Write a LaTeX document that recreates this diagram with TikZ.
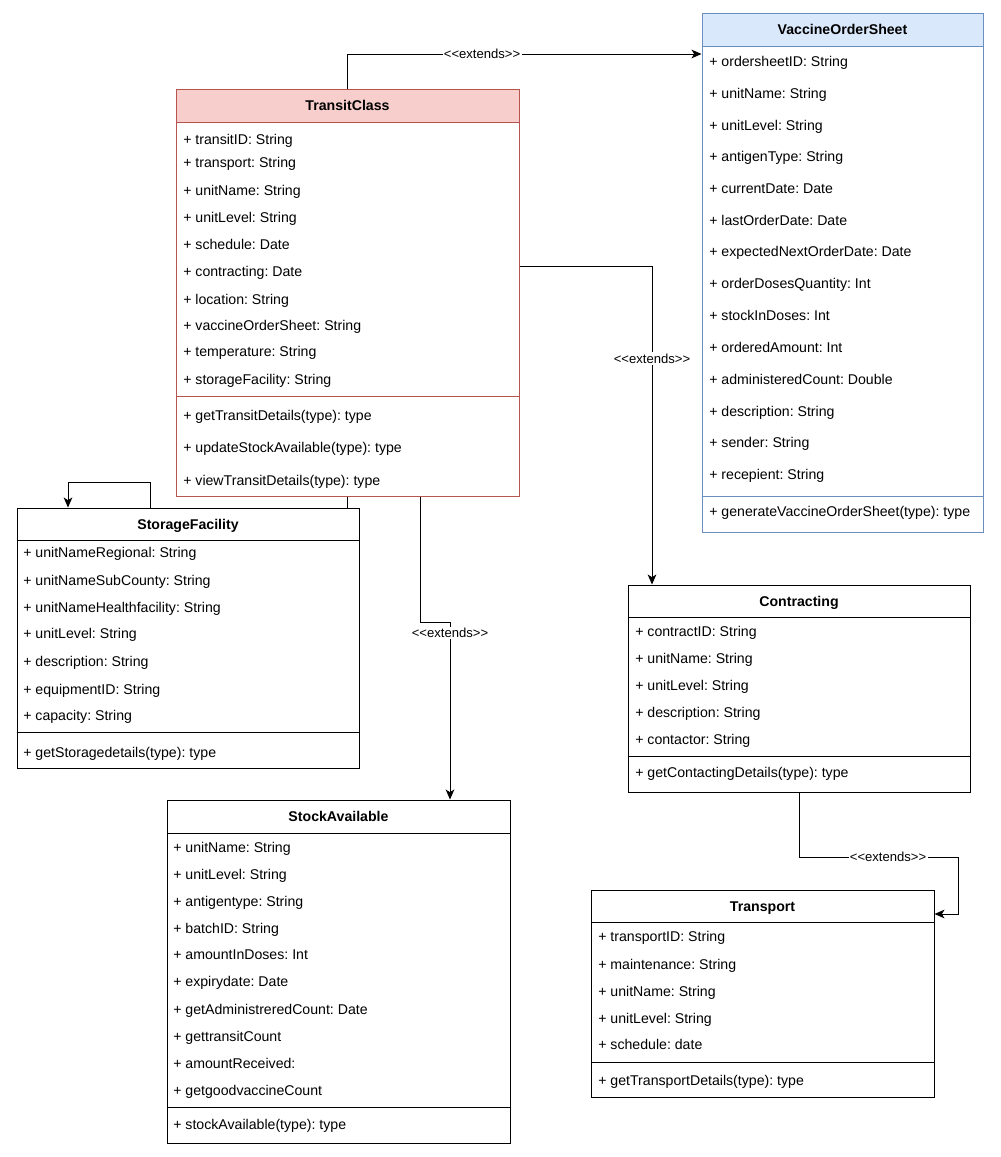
\documentclass[tikz,border=0pt]{standalone}
\usepackage{fontspec}
\setmainfont{Liberation Sans}
\usetikzlibrary{fit,arrows.meta}
\frenchspacing

\definecolor{redfill}{HTML}{F8CECC}
\definecolor{redline}{HTML}{B85450}
\definecolor{bluefill}{HTML}{DAE8FC}
\definecolor{blueline}{HTML}{6C8EBF}

\tikzset{
  box/.style={draw,fill=white,inner sep=0pt,line width=0.75pt},
  title/.style={inner sep=0pt,text height=7.5pt,text depth=0pt,
    font=\fontsize{10.6}{12.7}\selectfont\bfseries},
  attr/.style={anchor=west,inner sep=0pt,text height=7pt,text depth=0pt,
    font=\fontsize{10.6}{12.7}\selectfont},
  sep/.style={line width=0.75pt},
  ext/.style={line width=0.75pt,-{Stealth[length=7.5pt,width=6.5pt,inset=2pt]}},
  lbl/.style={fill=white,inner sep=1pt,font=\fontsize{9.8}{11.7}\selectfont},
}

\begin{document}
\begin{tikzpicture}[x=0.75pt,y=-0.75pt]
  \useasboundingbox (0,0) rectangle (1000,1157);

  % TransitClass
  \node[box,draw=redline,fit={(176,89) (519,496)}] (transit) {};
  \node[box,draw=redline,fill=redfill,fit={(176,89) (519,122)}] (transit head) {};
  \node[title] (transit title) at (transit head) {TransitClass};
  \draw[sep,redline] (transit.west |- 0,396) -- (transit.east |- 0,396);
  \foreach \y/\t [count=\i] in {140/transitID: String, 163/transport: String,
      191/unitName: String, 218/unitLevel: String, 245/schedule: Date,
      272/contracting: Date, 300/location: String, 326/vaccineOrderSheet: String,
      352/temperature: String, 380/storageFacility: String,
      416/getTransitDetails(type): type, 448/updateStockAvailable(type): type,
      481/viewTransitDetails(type): type}
    \node[attr] (transit \i) at (183,\y) {+ \t};

  % VaccineOrderSheet
  \node[box,draw=blueline,fit={(702,13) (983,532)}] (vos) {};
  \node[box,draw=blueline,fill=bluefill,fit={(702,13) (983,46)}] (vos head) {};
  \node[title] (vos title) at (vos head) {VaccineOrderSheet};
  \draw[sep,blueline] (vos.west |- 0,496) -- (vos.east |- 0,496);
  \foreach \y/\t [count=\i] in {62/ordersheetID: String, 94/unitName: String,
      126/unitLevel: String, 157/antigenType: String, 189/currentDate: Date,
      221/lastOrderDate: Date, 252/expectedNextOrderDate: Date,
      284/orderDosesQuantity: Int, 316/stockInDoses: Int, 348/orderedAmount: Int,
      380/administeredCount: Double, 412/description: String, 443/sender: String,
      475/recepient: String, 512/generateVaccineOrderSheet(type): type}
    \node[attr] (vos \i) at (709,\y) {+ \t};

  % StorageFacility
  \node[box,fit={(17,508) (359,768)}] (storage) {};
  \node[box,fit={(17,508) (359,540)}] (storage head) {};
  \node[title] (storage title) at (storage head) {StorageFacility};
  \draw[sep] (storage.west |- 0,732) -- (storage.east |- 0,732);
  \foreach \y/\t [count=\i] in {553/unitNameRegional: String,
      581/unitNameSubCounty: String, 608/unitNameHealthfacility: String,
      634/unitLevel: String, 662/description: String, 690/equipmentID: String,
      716/capacity: String, 753/getStoragedetails(type): type}
    \node[attr] (storage \i) at (23,\y) {+ \t};

  % StockAvailable
  \node[box,fit={(167,800) (510,1143)}] (stock) {};
  \node[box,fit={(167,800) (510,833)}] (stock head) {};
  \node[title] (stock title) at (stock head) {StockAvailable};
  \draw[sep] (stock.west |- 0,1107) -- (stock.east |- 0,1107);
  \foreach \y/\t [count=\i] in {848/unitName: String, 875/unitLevel: String,
      902/antigentype: String, 929/batchID: String, 955/amountInDoses: Int,
      982/expirydate: Date, 1010/getAdministreredCount: Date,
      1037/gettransitCount, 1064/amountReceived:, 1091/getgoodvaccineCount,
      1125/stockAvailable(type): type}
    \node[attr] (stock \i) at (173,\y) {+ \t};

  % Contracting
  \node[box,fit={(628,585) (970,792)}] (contracting) {};
  \node[box,fit={(628,585) (970,617)}] (contracting head) {};
  \node[title] (contracting title) at (contracting head) {Contracting};
  \draw[sep] (contracting.west |- 0,756) -- (contracting.east |- 0,756);
  \foreach \y/\t [count=\i] in {632/contractID: String, 659/unitName: String,
      686/unitLevel: String, 713/description: String, 740/contactor: String,
      773/getContactingDetails(type): type}
    \node[attr] (contracting \i) at (635,\y) {+ \t};

  % Transport
  \node[box,fit={(591,890) (934,1097)}] (transport) {};
  \node[box,fit={(591,890) (934,922)}] (transport head) {};
  \node[title] (transport title) at (transport head) {Transport};
  \draw[sep] (transport.west |- 0,1062) -- (transport.east |- 0,1062);
  \foreach \y/\t [count=\i] in {937/transportID: String, 965/maintenance: String,
      992/unitName: String, 1019/unitLevel: String, 1045/schedule: date,
      1081/getTransportDetails(type): type}
    \node[attr] (transport \i) at (598,\y) {+ \t};

  % connectors
  \draw[ext] (transit.north) |- node[lbl,pos=0.69] {<{}<extends>{}>} (vos.west |- 0,54);
  \draw[ext] (transit.east |- 0,266) -| node[lbl,pos=0.645] {<{}<extends>{}>} (contracting.north -| 652,0);
  \draw[ext] (transit.south -| 420,0) |- (450,622)
    -- node[lbl,pos=0.06] {<{}<extends>{}>} (stock.north -| 450,0);
  \draw[sep] (transit.south) -- (transit.south |- storage.north);
  \draw[ext] (storage.north -| 150,0) |- (68,482) -- (storage.north -| 68,0);
  \draw[ext] (contracting.south) |- node[lbl,pos=0.78] {<{}<extends>{}>} (958,857)
    |- (transport.east |- 0,914);
\end{tikzpicture}
\end{document}
